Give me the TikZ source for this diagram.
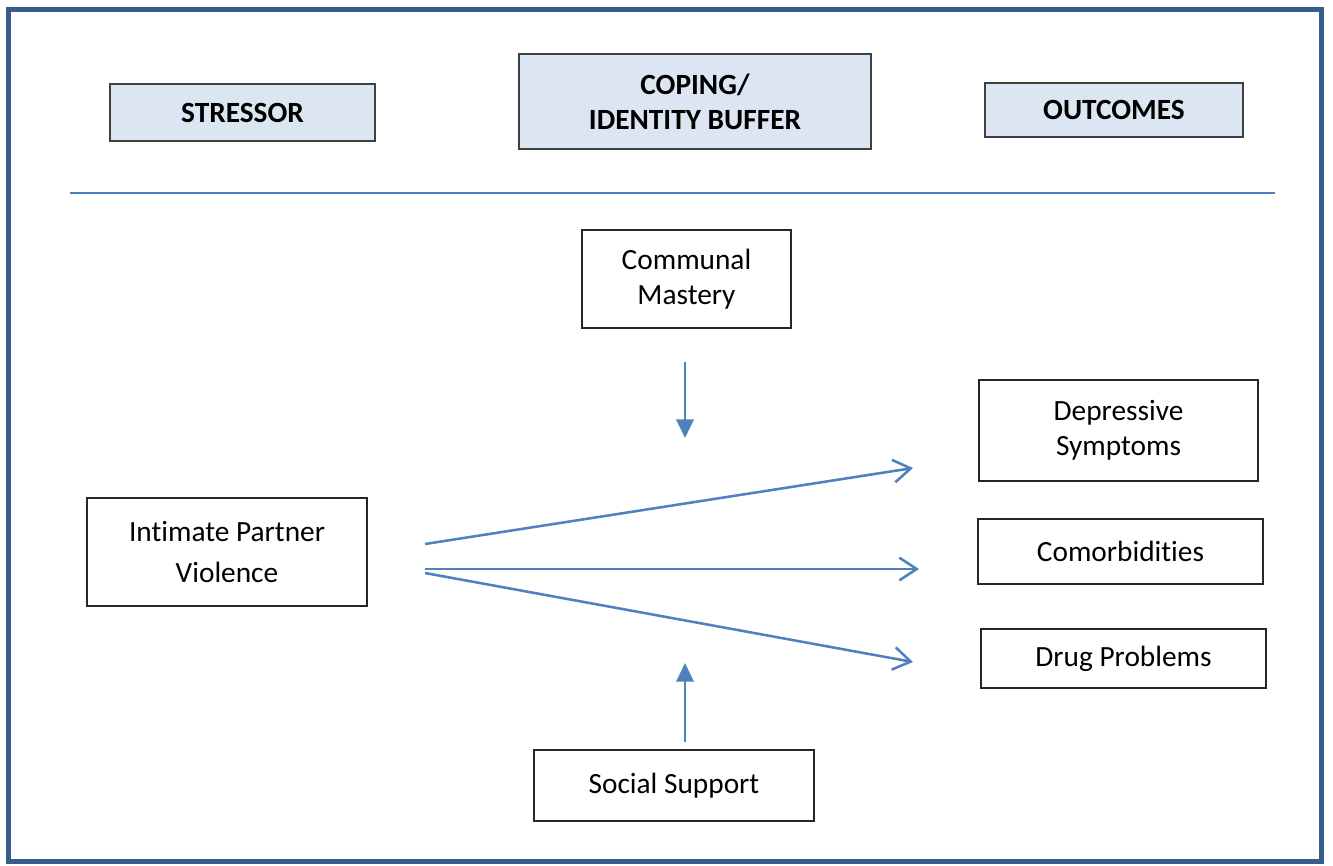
\documentclass[tikz,border=0pt]{standalone}
\usepackage{fontspec}
\setmainfont{Carlito}[Ligatures=NoCommon]
\usepackage{tikz}
\usetikzlibrary{arrows.meta}

\definecolor{frameblue}{RGB}{56,93,138}
\definecolor{linkblue}{RGB}{79,129,189}
\definecolor{headfill}{RGB}{220,230,242}

\tikzset{
    headbox/.style={draw=black!75, fill=headfill, line width=1.1pt, align=center, inner sep=0pt, font=\fontsize{22}{26}\selectfont\bfseries},
    varbox/.style={draw=black!85, line width=1pt, align=center, inner sep=0pt, font=\fontsize{22}{26}\selectfont},
    link/.style={draw=linkblue, line width=1.9pt, -{Straight Barb[length=13pt,width=17pt]}},
    buffer/.style={draw=linkblue, line width=1.9pt, -{Triangle[length=14pt,width=13pt]}},
}

\begin{document}
\begin{tikzpicture}[x=0.75pt,y=0.75pt,yscale=-1,xscale=1]
    \useasboundingbox (0,0) rectangle (1333,865);
    \fill[white] (0,0) rectangle (1333,865);

    %Shape: Frame
    \draw[frameblue, line width=3.75pt] (8.5,9.5) rectangle (1321.5,861);
    %Straight Lines: separator
    \draw[linkblue, line width=1.4pt] (70,193) -- (1275,193);

    % Header Nodes
    \node[headbox, minimum width=198.75pt, minimum height=42.75pt] (stressor) at (242.5,112.5) {STRESSOR};
    \node[headbox, minimum width=264pt, minimum height=71.25pt] (buffer) at (695,101.5) {COPING/\\IDENTITY BUFFER};
    \node[headbox, minimum width=193.5pt, minimum height=40.5pt] (outcomes) at (1114,110) {OUTCOMES};

    % Text Nodes
    \node[varbox, minimum width=156.75pt, minimum height=73.5pt] (mastery) at (686.5,279) {Communal\\Mastery};
    \node[varbox, minimum width=210pt, minimum height=81pt, font=\fontsize{22}{31}\selectfont] (ipv) at (227,552) {Intimate Partner\\Violence};
    \node[varbox, minimum width=210pt, minimum height=53.25pt] (support) at (674,785.5) {Social Support};
    \node[varbox, minimum width=209.25pt, minimum height=75.75pt] (depress) at (1118.5,430.5) {Depressive\\Symptoms};
    \node[varbox, minimum width=213.75pt, minimum height=48.75pt] (comorb) at (1120.5,551.5) {Comorbidities};
    \node[varbox, minimum width=213.75pt, minimum height=44.25pt] (drugs) at (1123.5,658.5) {Drug Problems};

    % Arrow ends
    \coordinate (ipv top) at (425,544);
    \coordinate (ipv mid) at (425,569);
    \coordinate (ipv low) at (425,573);
    \coordinate (depress in) at (913,468);
    \coordinate (comorb in) at (919,569);
    \coordinate (drugs in) at (913,662);
    \coordinate (mastery out) at (685,362);
    \coordinate (mastery tip) at (685,438);
    \coordinate (support out) at (685,742);
    \coordinate (support tip) at (685,663);

    %Straight Lines
    \draw[link] (ipv top) -- (depress in);
    \draw[link] (ipv mid) -- (comorb in);
    \draw[link] (ipv low) -- (drugs in);
    \draw[buffer] (mastery out) -- (mastery tip);
    \draw[buffer] (support out) -- (support tip);

\end{tikzpicture}
\end{document}
